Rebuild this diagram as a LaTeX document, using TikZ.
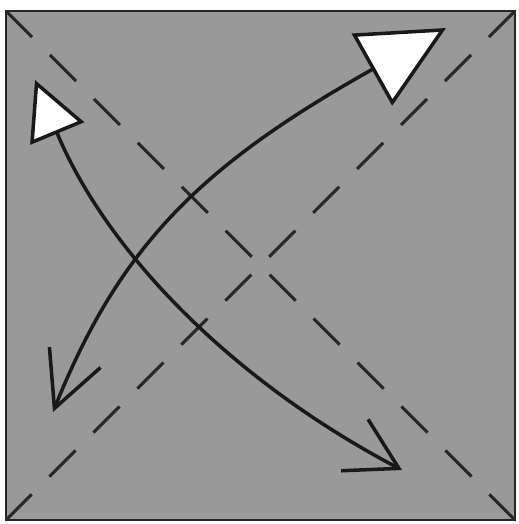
\documentclass[tikz,border=0pt]{standalone}
\usetikzlibrary{arrows.meta}
\definecolor{paper}{gray}{0.6}
\definecolor{inkdark}{gray}{0.15}

\begin{document}
\begin{tikzpicture}[x=0.01cm,y=-0.01cm,
  crease/.style={draw=inkdark, line width=0.85pt, dash pattern=on 10.5pt off 7.17pt},
  foldarr/.style={draw=black!90, line width=1pt}]
 \useasboundingbox (0,0) rectangle (519,524);
 % sheet
 \coordinate (nw) at (6,11);
 \coordinate (ne) at (515,11);
 \coordinate (sw) at (6,520);
 \coordinate (se) at (515,520);
 \filldraw[fill=paper, draw=inkdark, line width=0.8pt] (nw) rectangle (se);
 % diagonal creases
 \draw[crease] (nw) -- (se);
 \draw[crease] (ne) -- (sw);
 % arrow tips
 \coordinate (bl) at (53,412);
 \coordinate (tr) at (446,28);
 \coordinate (tl) at (35,80);
 \coordinate (br) at (402,470);
 % fold arrows
 \draw[foldarr, {Straight Barb[length=0.55cm,width=0.55cm]}-{Triangle[length=0.85cm,width=0.82cm,fill=white]}]
   (bl) .. controls (120,245) and (202,165) .. (tr);
 \draw[foldarr, {Triangle[length=0.58cm,width=0.58cm,fill=white]}-{Straight Barb[length=0.5cm,width=0.58cm]}]
   (tl) .. controls (105,248) and (227,378) .. (br);
\end{tikzpicture}
\end{document}
